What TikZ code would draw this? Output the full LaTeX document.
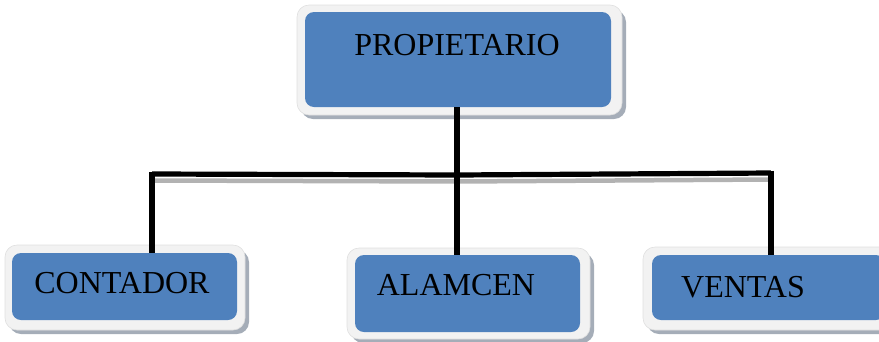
\documentclass[tikz,border=0pt]{standalone}
\usepackage{fontspec}
\setmainfont{Liberation Serif}
\definecolor{boxblue}{HTML}{4F81BD}
\definecolor{framegray}{HTML}{F2F2F2}
\definecolor{shadowgray}{HTML}{A5ADB8}
\tikzset{
  framebox/.style={fill=framegray, draw=gray!25, line width=0.6pt, rounded corners=12pt},
  shadowbox/.style={fill=shadowgray, rounded corners=12pt},
  bluebox/.style={fill=boxblue, draw=none, rounded corners=9pt, inner sep=0pt},
  lbl/.style={font=\fontsize{32}{36}\selectfont, text=black, inner sep=0pt},
  conn/.style={line width=5.2pt, draw=black},
  connshadow/.style={line width=4.5pt, draw=gray!60}
}
\begin{document}
\begin{tikzpicture}[x=1pt,y=-1pt]
\useasboundingbox (0,0) rectangle (879,341);
% top box
\fill[shadowbox] (301,10) rectangle (626,119);
\draw[framebox] (297,5) rectangle (622,115);
\node[bluebox, minimum width=306pt, minimum height=95pt] (top) at (458,59.5) {};
\node[lbl] (toplbl) at (457,45) {PROPIETARIO};
% contador
\fill[shadowbox] (9,250) rectangle (249,334);
\draw[framebox] (5,245) rectangle (245,330);
\node[bluebox, minimum width=225pt, minimum height=67pt] (cont) at (124.5,286.5) {};
\node[lbl] (contlbl) at (122,283) {CONTADOR};
% alamcen
\fill[shadowbox] (351,253) rectangle (594,343);
\draw[framebox] (347,248) rectangle (590,339);
\node[bluebox, minimum width=225pt, minimum height=77pt] (alm) at (467.5,293.5) {};
\node[lbl] (almlbl) at (456,285) {ALAMCEN};
% ventas
\fill[shadowbox] (647,252) rectangle (895,334);
\draw[framebox] (643,247) rectangle (891,330);
\node[bluebox, minimum width=233pt, minimum height=65pt] (vent) at (768.5,287.5) {};
\node[lbl] (ventlbl) at (743,287) {VENTAS};
% connectors
\coordinate (bl) at (152,174);
\coordinate (bm) at (457,175);
\coordinate (br) at (771,173);
\draw[connshadow] ([yshift=-6.5pt]bl) -- ([yshift=-6.5pt]bm) -- ([yshift=-6.5pt]br);
\draw[conn] (bl) -- (bm) -- (br);
\draw[conn] (bm |- top.south) -- (bm |- alm.north);
\draw[conn] ([yshift=2.4pt]bl) -- (bl |- cont.north);
\draw[conn] ([yshift=2.4pt]br) -- (br |- vent.north);
\end{tikzpicture}
\end{document}
